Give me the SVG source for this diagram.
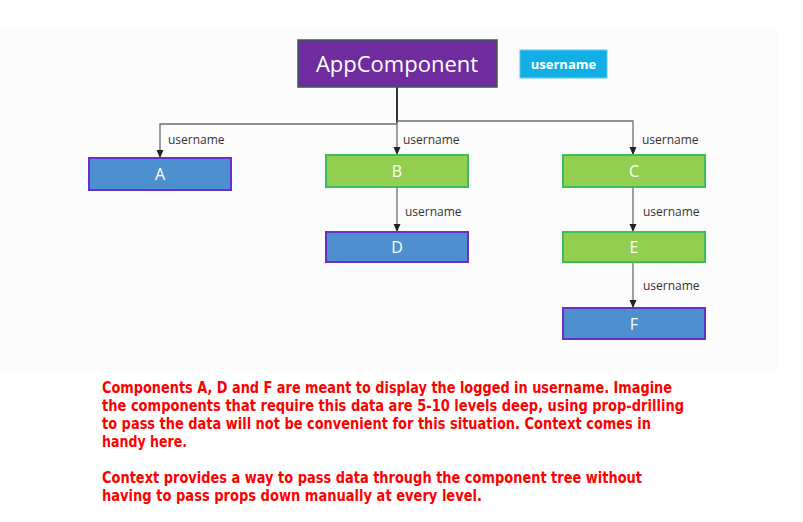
<svg xmlns="http://www.w3.org/2000/svg" width="803" height="522" viewBox="0 0 803 522">
<defs>
<marker id="arr" viewBox="0 0 8 8" refX="8" refY="4" markerWidth="8" markerHeight="8" markerUnits="userSpaceOnUse" orient="auto">
<path d="M0,0.5 L8,4 L0,7.5 z" fill="#222"/>
</marker>
<style>
.blue{fill:#4e8fcf;stroke:#6a2fc4;stroke-width:2}
.green{fill:#92cf50;stroke:#3cbf5a;stroke-width:2}
.nl{font-family:"Open Sans","Noto Sans",sans-serif;font-size:16px;fill:#fff;text-anchor:middle}
.el{font-family:"Open Sans","Noto Sans",sans-serif;font-size:12px;fill:#333}
.c{fill:none;stroke:#6e6e6e;stroke-width:1.3}
.red{font-family:"DejaVu Sans",Verdana,sans-serif;font-weight:bold;font-size:15px;fill:#ff0000}
</style>
</defs>
<rect width="803" height="522" fill="#ffffff"/>
<rect x="0" y="28" width="778" height="342" fill="#fcfcfd"/>

<g id="connectors">
<line x1="397" y1="87" x2="397" y2="123" stroke="#333" stroke-width="2"/>
<path class="c" d="M397,124 H160 V158" marker-end="url(#arr)"/>
<path class="c" d="M397,121 V155" marker-end="url(#arr)"/>
<path class="c" d="M397,121 H633 V155" marker-end="url(#arr)"/>
<path class="c" d="M397,187 V232" marker-end="url(#arr)"/>
<path class="c" d="M633,187 V232" marker-end="url(#arr)"/>
<path class="c" d="M633,262 V308" marker-end="url(#arr)"/>
<text class="el" x="168" y="144">username</text>
<text class="el" x="403" y="144">username</text>
<text class="el" x="642" y="144">username</text>
<text class="el" x="405" y="216">username</text>
<text class="el" x="643" y="216">username</text>
<text class="el" x="643" y="290">username</text>
</g>

<g id="app">
<rect x="298" y="40" width="199" height="47" fill="#6f2c9f" stroke="#3d5a57" stroke-width="1.5"/>
<text x="397" y="72" font-family="'Open Sans','Noto Sans',sans-serif" font-size="22" fill="#fff" text-anchor="middle">AppComponent</text>
</g>
<g id="username-badge">
<rect x="520" y="50" width="87" height="28" fill="#12afe6" stroke="#5cc8ee" stroke-width="1"/>
<text x="563.5" y="68.5" font-family="'Open Sans','Noto Sans',sans-serif" font-size="13" font-weight="bold" fill="#fff" text-anchor="middle">username</text>
</g>
<g id="A"><rect class="blue" x="89" y="158" width="142" height="32"/><text class="nl" x="160" y="180">A</text></g>
<g id="B"><rect class="green" x="326" y="155" width="142" height="32"/><text class="nl" x="397" y="177">B</text></g>
<g id="C"><rect class="green" x="563" y="155" width="142" height="32"/><text class="nl" x="634" y="177">C</text></g>
<g id="D"><rect class="blue" x="326" y="232" width="142" height="30"/><text class="nl" x="397" y="253">D</text></g>
<g id="E"><rect class="green" x="563" y="232" width="142" height="30"/><text class="nl" x="634" y="253">E</text></g>
<g id="F"><rect class="blue" x="563" y="308" width="142" height="31"/><text class="nl" x="634" y="330">F</text></g>

<g id="note">
<text class="red" x="102" y="393" textLength="570" lengthAdjust="spacingAndGlyphs">Components A, D and F are meant to display the logged in username. Imagine</text>
<text class="red" x="102" y="411" textLength="582" lengthAdjust="spacingAndGlyphs">the components that require this data are 5-10 levels deep, using prop-drilling</text>
<text class="red" x="102" y="429" textLength="549" lengthAdjust="spacingAndGlyphs">to pass the data will not be convenient for this situation. Context comes in</text>
<text class="red" x="102" y="447" textLength="85" lengthAdjust="spacingAndGlyphs">handy here.</text>
<text class="red" x="102" y="483" textLength="540" lengthAdjust="spacingAndGlyphs">Context provides a way to pass data through the component tree without</text>
<text class="red" x="102" y="501" textLength="380" lengthAdjust="spacingAndGlyphs">having to pass props down manually at every level.</text>
</g>
</svg>
